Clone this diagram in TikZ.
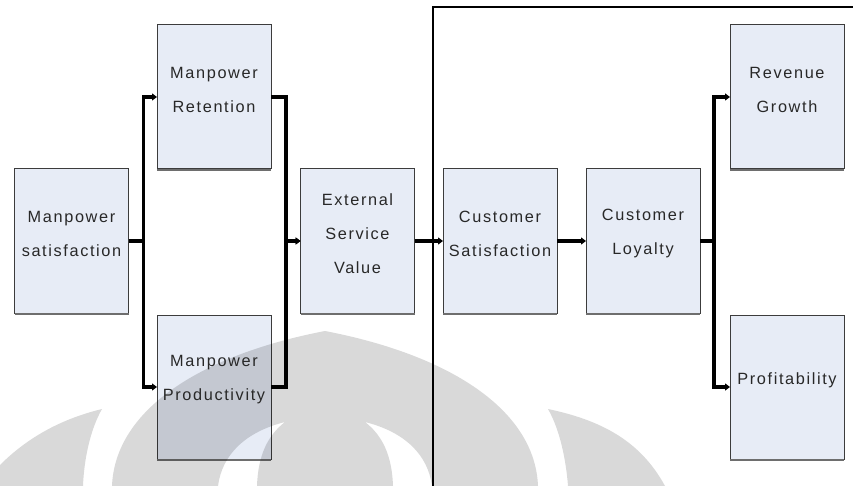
\documentclass[tikz,border=0pt]{standalone}
\usepackage{fontspec}
\setmainfont{Liberation Sans}[LetterSpace=10]
\usetikzlibrary{arrows.meta}
\definecolor{boxfill}{RGB}{231,236,246}
\definecolor{boxline}{RGB}{60,60,60}
\definecolor{boxshade}{RGB}{110,110,110}
\definecolor{txtcol}{RGB}{40,40,40}
\begin{document}
\begin{tikzpicture}[x=1pt,y=-1pt,
  box/.style={draw=boxline, line width=1pt, fill=boxfill, minimum width=114pt, minimum height=144pt, inner sep=0pt, outer sep=0pt},
  lbl/.style={text=txtcol, align=center, font=\fontsize{16.3}{34}\selectfont, inner sep=0pt},
  conn/.style={line width=3.5pt, -{Triangle[length=5pt,width=7pt]}},
  shade/.style={draw=boxshade, line width=2pt},
  wm/.style={fill=black, fill opacity=0.15, even odd rule},
  divider/.style={draw=black, line width=1.2pt}]
\useasboundingbox[fill=white] (0,0) rectangle (853,486);

% boxes
\node[box] (msat)  at (71.5,241) {};
\node[box] (mret)  at (214,97)   {};
\node[box] (mprod) at (214,387)  {};
\node[box] (esv)   at (357.5,241) {};
\node[box] (csat)  at (500,241)  {};
\node[box] (cloy)  at (643,241)  {};
\node[box] (rev)   at (787,97)   {};
\node[box] (prof)  at (787,387)  {};
\foreach \n in {msat,mret,mprod,esv,csat,cloy,rev,prof}
  \draw[shade] ([yshift=-1pt]\n.south west) -- ([yshift=-1pt]\n.south east);

% divider
\coordinate (dvb) at (433,486);
\coordinate (dvt) at (433,7);
\coordinate (dvr) at (853,7);
\draw[divider] (dvb) -- (dvt) -- (dvr);

% watermark
\fill[wm] (112,486) .. controls (115,410) and (200,355) .. (325,331)
   .. controls (450,355) and (535,410) .. (538,486) -- cycle
  (218,486) .. controls (222,455) and (245,432) .. (285,422)
   .. controls (268,435) and (258,455) .. (257,486) -- cycle
  (432,486) .. controls (428,455) and (405,432) .. (365,422)
   .. controls (382,435) and (392,455) .. (393,486) -- cycle;
\fill[wm] (102,409) .. controls (90,430) and (84,460) .. (83,486) -- (0,486) -- (0,465)
   .. controls (30,435) and (65,418) .. (102,409) -- cycle;
\fill[wm] (548,409) .. controls (560,430) and (566,460) .. (568,486) -- (665,486)
   .. controls (640,440) and (600,420) .. (548,409) -- cycle;

% labels
\node[lbl] at ([yshift=7pt]msat.center)  {Manpower\\satisfaction};
\node[lbl] at ([yshift=7pt]mret.center)  {Manpower\\Retention};
\node[lbl] at ([yshift=7pt]mprod.center) {Manpower\\Productivity};
\node[lbl] at ([yshift=7pt]esv.center)   {External\\Service\\Value};
\node[lbl] at ([yshift=7pt]csat.center)  {Customer\\Satisfaction};
\node[lbl] at ([yshift=7pt]cloy.center)  {Customer\\Loyalty};
\node[lbl] at ([yshift=7pt]rev.center)   {Revenue\\Growth};
\node[lbl] at ([yshift=7pt]prof.center)  {Profitability};

% connectors
\draw[conn] (msat.east) -- ++(15,0) |- (mret.west);
\draw[conn] (msat.east) -- ++(15,0) |- (mprod.west);
\draw[conn] (mret.east) -- ++(15,0) |- (esv.west);
\draw[conn] (mprod.east) -- ++(15,0) |- (esv.west);
\draw[conn] (esv.east) -- (csat.west);
\draw[conn] (csat.east) -- (cloy.west);
\draw[conn] (cloy.east) -- ++(14,0) |- (rev.west);
\draw[conn] (cloy.east) -- ++(14,0) |- (prof.west);
\end{tikzpicture}
\end{document}
